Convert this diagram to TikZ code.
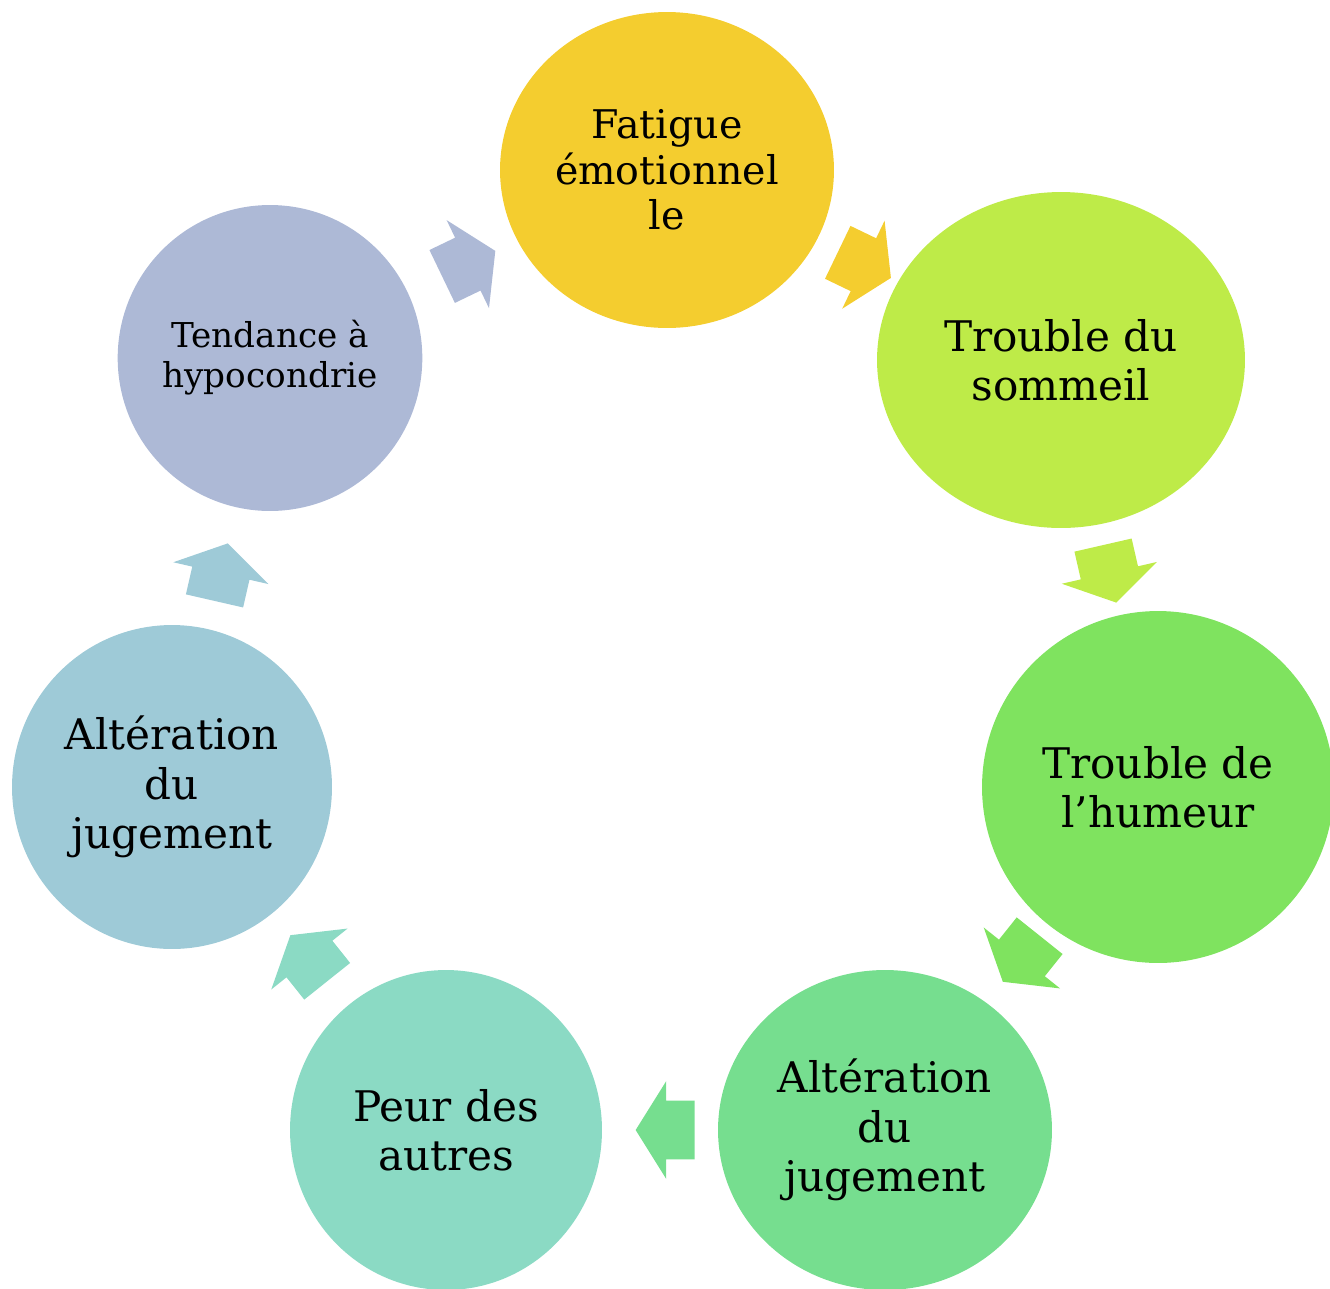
\documentclass[tikz,border=0pt]{standalone}
\usepackage{fontspec}
\setmainfont{DejaVu Serif}
\usetikzlibrary{shapes.geometric,shapes.arrows,calc}
\definecolor{fatigue}{HTML}{F4CD2F}
\definecolor{sommeil}{HTML}{BEEB48}
\definecolor{humeur}{HTML}{7FE35F}
\definecolor{jugementA}{HTML}{76DE8F}
\definecolor{peur}{HTML}{8BDAC4}
\definecolor{jugementB}{HTML}{9ECAD7}
\definecolor{hypo}{HTML}{ADB9D6}
\begin{document}
\begin{tikzpicture}[
x=0.02cm,
y=-0.02cm,
bubble/.style={
ellipse,
inner sep=0pt,
align=center,
font=\fontsize{24}{28}\selectfont,
},
flow/.style={
single arrow,
draw=none,
anchor=tail,
inner xsep=0pt,
inner ysep=0.58cm,
minimum width=0pt,
minimum height=1.18cm,
single arrow head extend=0.39cm,
single arrow tip angle=116,
},
]
\useasboundingbox (0,0) rectangle (1330,1289);

\node[bubble, fill=fatigue, minimum width=6.68cm, minimum height=6.32cm, font=\fontsize{22.5}{26}\selectfont] at (667,170) (1) {Fatigue\\émotionnel\\le};
\node[bubble, fill=sommeil, minimum width=7.36cm, minimum height=6.72cm] at (1061,360) (2) {Trouble du\\sommeil};
\node[bubble, fill=humeur, minimum width=7.04cm, minimum height=7.04cm] at (1158,787) (3) {Trouble de\\l’humeur};
\node[bubble, fill=jugementA, minimum width=6.68cm, minimum height=6.4cm] at (885,1130) (4) {Altération\\du\\jugement};
\node[bubble, fill=peur, minimum width=6.24cm, minimum height=6.4cm] at (446,1130) (5) {Peur des\\autres};
\node[bubble, fill=jugementB, minimum width=6.4cm, minimum height=6.48cm] at (172,787) (6) {Altération\\du\\jugement};
\node[bubble, fill=hypo, minimum width=6.08cm, minimum height=6.12cm, font=\fontsize{19.5}{22.7}\selectfont] at (270,358) (7) {Tendance à\\hypocondrie};

\node[flow, fill=fatigue, rotate=-25.7] at ($($(1)!0.5!(2)$)!0.59cm!(1)$) (a1) {};
\node[flow, fill=sommeil, rotate=-77.1] at ($($(2)!0.5!(3)$)!0.59cm!(2)$) (a2) {};
\node[flow, fill=humeur, rotate=-128.6] at ($($(3)!0.5!(4)$)!0.59cm!(3)$) (a3) {};
\node[flow, fill=jugementA, rotate=180] at ($($(4)!0.5!(5)$)!0.59cm!(4)$) (a4) {};
\node[flow, fill=peur, rotate=128.6] at ($($(5)!0.5!(6)$)!0.59cm!(5)$) (a5) {};
\node[flow, fill=jugementB, rotate=77.1] at ($($(6)!0.5!(7)$)!0.59cm!(6)$) (a6) {};
\node[flow, fill=hypo, rotate=25.7] at ($($(7)!0.5!(1)$)!0.59cm!(7)$) (a7) {};

\end{tikzpicture}
\end{document}
